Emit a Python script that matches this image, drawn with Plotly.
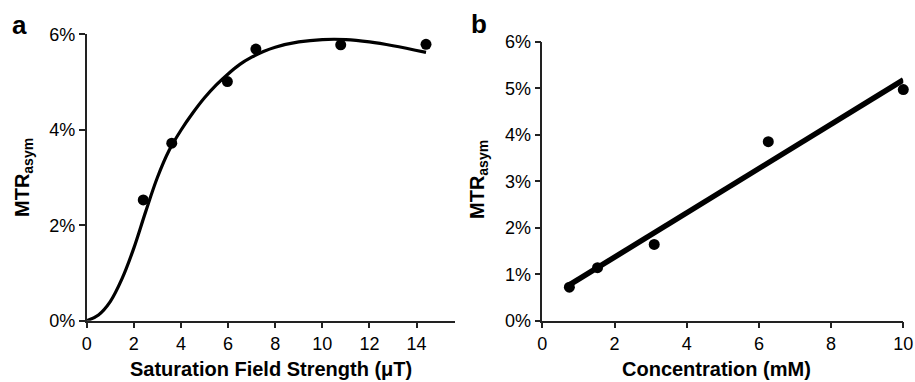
import plotly.graph_objects as go

# Panel a: MTRasym vs saturation field strength
a_x = [2.40, 3.61, 5.97, 7.18, 10.78, 14.40]
a_y = [2.53, 3.72, 5.01, 5.69, 5.78, 5.79]
a_fit_x = [0, 0.5, 1.0, 1.5, 2.0, 2.5, 3.0, 3.5, 4.0, 4.5, 5.0, 5.5, 6.0, 6.5, 7.0, 7.5, 8.0,
           9.0, 10.0, 11.0, 12.0, 13.0, 14.4]
a_fit_y = [0, 0.12, 0.40, 0.88, 1.52, 2.28, 3.00, 3.57, 3.99, 4.35, 4.67, 4.94, 5.17, 5.37, 5.52,
           5.64, 5.73, 5.84, 5.89, 5.89, 5.84, 5.76, 5.62]

# Panel b: MTRasym vs concentration
b_x = [0.75, 1.53, 3.10, 6.26, 10.0]
b_y = [0.72, 1.14, 1.64, 3.85, 4.97]
b_fit_x = [0.75, 10.0]
b_fit_y = [0.77, 5.18]

a_xticks = [0, 2, 4, 6, 8, 10, 12, 14]
a_yticks = [0, 2, 4, 6]
b_xticks = [0, 2, 4, 6, 8, 10]
b_yticks = [0, 1, 2, 3, 4, 5, 6]

W, H = 915, 382
ML, MR, MT, MB = 70, 5, 10, 50
PW, PH = W - ML - MR, H - MT - MB
FONT = "Liberation Sans, Arial, sans-serif"

fig = go.Figure()
fig.add_trace(go.Scatter(x=a_fit_x, y=a_fit_y, mode="lines",
                         line=dict(color="black", width=3.2, shape="spline", smoothing=1.0),
                         xaxis="x", yaxis="y", cliponaxis=False))
fig.add_trace(go.Scatter(x=a_x, y=a_y, mode="markers", marker=dict(color="black", size=11),
                         xaxis="x", yaxis="y", cliponaxis=False))
fig.add_trace(go.Scatter(x=b_fit_x, y=b_fit_y, mode="lines", line=dict(color="black", width=5.5),
                         xaxis="x2", yaxis="y2", cliponaxis=False))
fig.add_trace(go.Scatter(x=b_x, y=b_y, mode="markers", marker=dict(color="black", size=11),
                         xaxis="x2", yaxis="y2", cliponaxis=False))


def px(x):
    return (x - ML) / PW


def py(y):
    return 1 - (y - MT) / PH


axis_common = dict(showline=True, linecolor="#222", linewidth=1.5, ticks="outside", ticklen=6,
                   tickwidth=1.5, tickcolor="#222", showgrid=False, zeroline=False, automargin=False,
                   tickfont=dict(family=FONT, size=18, color="black"))

fig.update_layout(
    width=W, height=H, margin=dict(l=ML, r=MR, t=MT, b=MB, autoexpand=False),
    paper_bgcolor="white", plot_bgcolor="white", showlegend=False,
    xaxis=dict(domain=[px(86.7), px(455)], range=[0, 15.63], tickvals=a_xticks,
               anchor="y", **axis_common),
    yaxis=dict(domain=[py(320.7), py(34.3)], range=[0, 6], tickvals=a_yticks,
               ticktext=[f"{v}%" for v in a_yticks], anchor="x", **axis_common),
    xaxis2=dict(domain=[px(542.3), px(903.3)], range=[0, 10], tickvals=b_xticks,
                anchor="y2", **axis_common),
    yaxis2=dict(domain=[py(320.7), py(41.7)], range=[0, 6], tickvals=b_yticks,
                ticktext=[f"{v}%" for v in b_yticks], anchor="x2", **axis_common),
)

ann = []
ann.append(dict(text="<b>Saturation Field Strength (μT)</b>", x=px(271), y=py(369), xref="paper", yref="paper",
                showarrow=False, font=dict(family=FONT, size=20, color="black"), xanchor="center", yanchor="middle"))
ann.append(dict(text="<b>Concentration (mM)</b>", x=px(716), y=py(369), xref="paper", yref="paper",
                showarrow=False, font=dict(family=FONT, size=20, color="black"), xanchor="center", yanchor="middle"))
ann.append(dict(text="<b>MTR<sub>asym</sub></b>", x=px(23), y=py(178), xref="paper", yref="paper", textangle=-90,
                showarrow=False, font=dict(family=FONT, size=20, color="black"), xanchor="center", yanchor="middle"))
ann.append(dict(text="<b>MTR<sub>asym</sub></b>", x=px(478), y=py(180), xref="paper", yref="paper", textangle=-90,
                showarrow=False, font=dict(family=FONT, size=20, color="black"), xanchor="center", yanchor="middle"))
ann.append(dict(text="<b>a</b>", x=px(19), y=py(25), xref="paper", yref="paper",
                showarrow=False, font=dict(family=FONT, size=26, color="black"), xanchor="center", yanchor="middle"))
ann.append(dict(text="<b>b</b>", x=px(479), y=py(24), xref="paper", yref="paper",
                showarrow=False, font=dict(family=FONT, size=26, color="black"), xanchor="center", yanchor="middle"))
fig.update_layout(annotations=ann)

fig.write_html("out.html", config={"displayModeBar": False},
               post_script="document.body.style.margin='0px';")
